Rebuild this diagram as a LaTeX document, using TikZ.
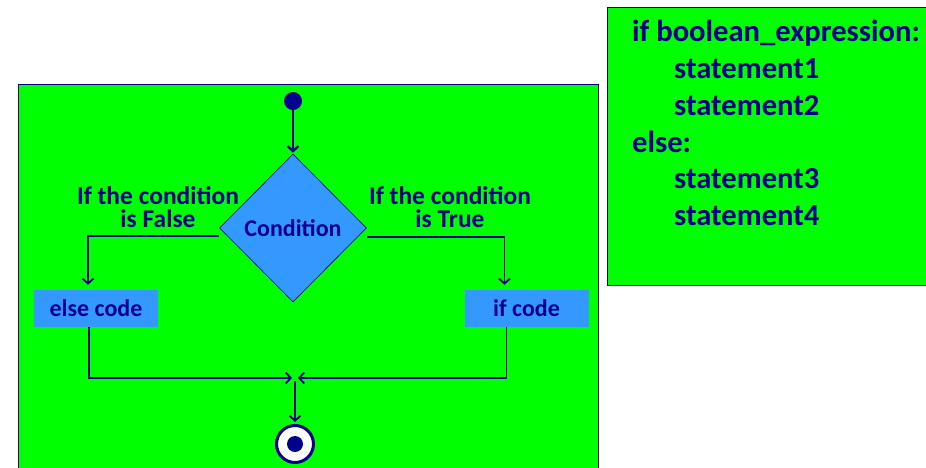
\documentclass[tikz,border=0pt]{standalone}
\usepackage{fontspec}
\setmainfont{Carlito}
\usetikzlibrary{arrows.meta, positioning, shapes.geometric}

\definecolor{panelgreen}{RGB}{0,255,0}
\definecolor{darkblue}{RGB}{0,0,140}
\definecolor{boxblue}{RGB}{51,153,255}

\begin{document}
\begin{tikzpicture}[
x=1pt, y=-1pt,
font=\bfseries\fontsize{24}{26}\selectfont,
text=darkblue,
panel/.style={rectangle, draw=darkblue, line width=0.8pt, fill=panelgreen, inner sep=0pt},
codebox/.style={rectangle, fill=boxblue, minimum width=124pt, minimum height=37pt, inner sep=0pt},
decision/.style={diamond, draw=darkblue, line width=0.6pt, fill=boxblue, minimum width=147pt, minimum height=148pt, inner sep=0pt},
label/.style={align=center, font=\bfseries\fontsize{25.5}{23}\selectfont},
arrow/.style={draw=darkblue, line width=1.8pt, -{Straight Barb[length=5pt, width=11pt]}},
branch/.style={draw=darkblue, line width=1.2pt, -{Straight Barb[length=5pt, width=11pt, line width=1.8pt]}}
]
\useasboundingbox (0,0) rectangle (926,467);

% panels
\node[panel, anchor=north west, minimum width=580pt, minimum height=420pt] (flowpanel) at (18,84) {};
\node[panel, anchor=north west, minimum width=330pt, minimum height=278pt] (codepanel) at (607,7) {};

% code text
\node[anchor=north west, align=left, inner sep=0pt, font=\bfseries\fontsize{30.6}{36.8}\selectfont] (code) at (632,20) {%
if boolean\_expression:\\
\hspace*{42pt}statement1\\
\hspace*{42pt}statement2\\
else:\\
\hspace*{42pt}statement3\\
\hspace*{42pt}statement4};

% flow chart
\node[circle, fill=darkblue, minimum size=18pt, inner sep=0pt] (start) at (293,101) {};
\node[decision] (cond) at (293,228) {Condition};
\node[codebox] (elsecode) at (96,308.5) {else code};
\node[codebox] (ifcode) at (526.5,308.5) {if code};
\node[circle, draw=darkblue, line width=3pt, fill=white, minimum size=37pt, inner sep=0pt] (stop) at (295,444) {};
\node[circle, fill=darkblue, minimum size=16pt, inner sep=0pt] (stopdot) at (stop) {};
\coordinate (merge) at (295,378);

\node[label] (falselbl) at (158,207) {If the condition\\is False};
\node[label] (truelbl) at (450,207) {If the condition\\is True};

\draw[arrow, line width=2.4pt, shorten >=1pt] (start) -- (cond.north);
\draw[branch, shorten >=5pt] ([yshift=-8pt]cond.west) -| ([xshift=-8pt]elsecode.north);
\draw[branch, shorten >=5pt] ([yshift=-9pt]cond.east) -| ([xshift=-22pt]ifcode.north);
\draw[arrow, shorten >=3pt] ([xshift=-7pt]elsecode.south) |- (merge);
\draw[arrow, shorten >=3pt] ([xshift=-20pt]ifcode.south) |- (merge);
\draw[arrow, shorten <=3pt, shorten >=2pt] (merge) -- (stop.north);

\end{tikzpicture}
\end{document}
